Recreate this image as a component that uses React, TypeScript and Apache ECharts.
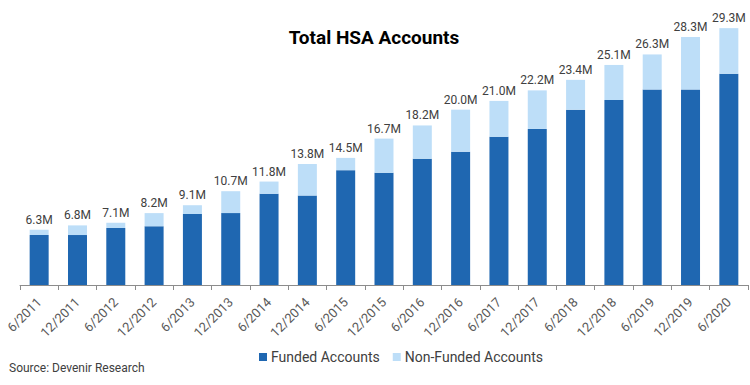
import React, { useEffect, useRef } from "react";
import * as echarts from "echarts";

const categories = [
  "6/2011", "12/2011", "6/2012", "12/2012", "6/2013", "12/2013", "6/2014", "12/2014",
  "6/2015", "12/2015", "6/2016", "12/2016", "6/2017", "12/2017", "6/2018", "12/2018",
  "6/2019", "12/2019", "6/2020",
];
const totalAccounts = [6.3, 6.8, 7.1, 8.2, 9.1, 10.7, 11.8, 13.8, 14.5, 16.7, 18.2, 20.0, 21.0, 22.2, 23.4, 25.1, 26.3, 28.3, 29.3];
const fundedAccounts = [5.7, 5.7, 6.5, 6.7, 8.1, 8.2, 10.4, 10.2, 13.1, 12.8, 14.4, 15.2, 16.9, 17.8, 20.0, 21.1, 22.3, 22.3, 24.1];
const nonFundedAccounts = totalAccounts.map((t, i) => +(t - fundedAccounts[i]).toFixed(1));

export default function App() {
  const ref = useRef<HTMLDivElement>(null);
  useEffect(() => {
    if (!ref.current) return;
    const chart = echarts.init(ref.current, null, { renderer: "svg" });
    chart.setOption({
      animation: false,
      textStyle: { fontFamily: "Roboto" },
      title: {
        text: "Total HSA Accounts",
        left: 374,
        top: 28,
        padding: 0,
        textAlign: "center",
        textStyle: { fontFamily: "Roboto", fontSize: 19, fontWeight: "bold", color: "#000" },
      },
      legend: {
        left: 259,
        top: 350,
        padding: 0,
        itemWidth: 8,
        itemHeight: 8,
        itemGap: 13,
        icon: "rect",
        textStyle: { fontFamily: "Roboto", fontSize: 14, color: "#404040", padding: [0, 0, 0, -1] },
        data: ["Funded Accounts", "Non-Funded Accounts"],
      },
      graphic: [
        {
          type: "text",
          left: 9,
          top: 362,
          style: { text: "Source: Devenir Research", fontFamily: "Roboto", fontSize: 12, fill: "#404040" },
        },
      ],
      grid: { left: 20, right: 2, top: 22, bottom: 100, containLabel: false },
      xAxis: {
        type: "category",
        data: categories,
        axisLine: { lineStyle: { color: "#8c8c8c", width: 1 } },
        axisTick: { show: true, length: 5, lineStyle: { color: "#8c8c8c" } },
        axisLabel: { rotate: 45, fontSize: 13, color: "#595959", margin: 15, interval: 0, fontFamily: "Roboto" },
      },
      yAxis: { type: "value", min: 0, max: 30, show: false, splitLine: { show: false } },
      series: [
        {
          name: "Funded Accounts",
          type: "bar",
          stack: "total",
          data: fundedAccounts,
          barWidth: 19,
          itemStyle: { color: "#1F67B1" },
        },
        {
          name: "Non-Funded Accounts",
          type: "bar",
          stack: "total",
          data: nonFundedAccounts,
          barWidth: 19,
          itemStyle: { color: "#BDDEF8" },
          label: {
            show: true,
            position: "top",
            distance: 4,
            fontSize: 12,
            color: "#404040",
            fontFamily: "Roboto",
            formatter: (p: any) => totalAccounts[p.dataIndex].toFixed(1) + "M",
          },
        },
      ],
    });
    return () => chart.dispose();
  }, []);
  return <div ref={ref} style={{ width: 750, height: 385, position: "absolute", left: 0, top: 0 }} />;
}
